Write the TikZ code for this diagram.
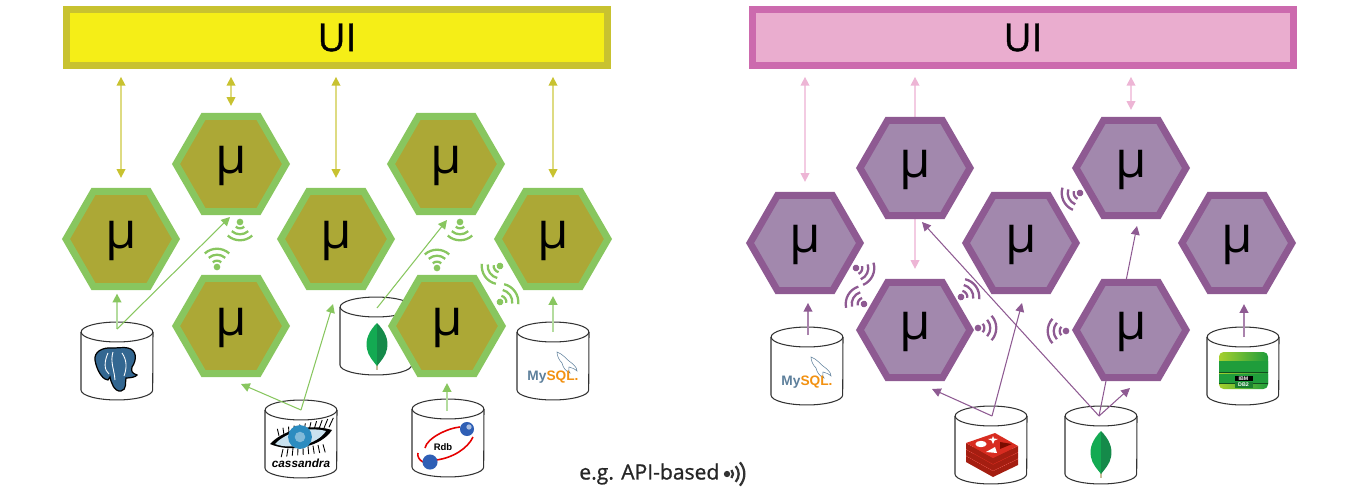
\documentclass[tikz,border=0pt]{standalone}
\usepackage{fontspec}
\setmainfont{Open Sans}
\newfontfamily\logofont{Liberation Sans}
\newfontfamily\semifont[FakeBold=1]{Open Sans}
\usetikzlibrary{
    arrows.meta,
    shapes.geometric,
    backgrounds
}
\definecolor{uiyellow}{HTML}{F5EE17}
\definecolor{uiolive}{HTML}{C8C230}
\definecolor{hexolive}{HTML}{ACA836}
\definecolor{hexgreen}{HTML}{88C65F}
\definecolor{uipink}{HTML}{EAADCF}
\definecolor{uirose}{HTML}{CC6AAE}
\definecolor{hexmauve}{HTML}{A288AD}
\definecolor{hexplum}{HTML}{8E5A92}
\definecolor{linepale}{HTML}{DEDB82}
\definecolor{linepink}{HTML}{F3CBE2}
\definecolor{tippink}{HTML}{EDB5D5}
\definecolor{linegreen}{HTML}{B4DC9E}
\definecolor{pgblue}{HTML}{336791}
\definecolor{eyeblue}{HTML}{2C8CC0}
\definecolor{leaflight}{HTML}{13AA52}
\definecolor{leafdark}{HTML}{158A4A}
\definecolor{leafstem}{HTML}{C9BC9A}
\definecolor{globeblue}{HTML}{2F5FB5}
\definecolor{mysqlblue}{HTML}{5D7F9B}
\definecolor{mysqlorange}{HTML}{F29111}
\definecolor{redisdark}{HTML}{A41E11}
\definecolor{redistop}{HTML}{D82C20}
\definecolor{redisdeep}{HTML}{7A0C00}
\definecolor{stacklime}{HTML}{A5CF2E}
\definecolor{stackgreen}{HTML}{1F9D3B}
\tikzset{
    uibar/.style={rectangle, draw, line width=3.97pt, minimum width=10.82cm, minimum height=1.12cm, font=\semifont\fontsize{22}{22}\selectfont},
    hexbox/.style={regular polygon, regular polygon sides=6, inner sep=0pt, minimum size=2.2cm, line width=3.97pt, text height=17pt, text depth=6pt, font=\fontsize{29}{29}\selectfont},
    hexa/.style={hexbox, draw=hexgreen, fill=hexolive},
    hexb/.style={hexbox, draw=hexplum, fill=hexmauve},
    yarrow/.style={draw=linepale, line width=.8pt, arrows={Triangle[width=5pt,length=5pt,color=uiolive]-Triangle[width=5pt,length=5pt,color=uiolive]}},
    parrow/.style={draw=linepink, line width=.8pt, arrows={Triangle[width=5pt,length=5pt,color=tippink]-Triangle[width=5pt,length=5pt,color=tippink]}},
    parrowone/.style={draw=linepink, line width=.8pt, arrows={-Triangle[width=5pt,length=5pt,color=tippink]}},
    garrow/.style={draw=hexgreen, line width=.6pt, arrows={-Triangle[width=5pt,length=5pt]}},
    garrowpale/.style={draw=linegreen, line width=.9pt, arrows={-Triangle[width=5pt,length=5pt,color=hexgreen]}},
    marrow/.style={draw=hexplum, line width=.6pt, arrows={-Triangle[width=5pt,length=5pt]}},
    marrowpale/.style={draw=hexplum!75, line width=.9pt, arrows={-Triangle[width=5pt,length=5pt,color=hexplum]}},
    dbcan/.pic={
        \draw[black!80, line width=.6pt] (0,-29) ellipse (20.4pt and 5.67pt);
        \draw[black!80, line width=.6pt] (-36,-29) -- (-36,29) arc[start angle=180, end angle=360, x radius=20.4pt, y radius=5.67pt] -- (36,-29);
    },
    % radio sign, opening along +x
    wifi/.pic={
        \fill (0,0) circle (1.9pt);
        \foreach \r in {3.6pt, 7pt, 10.4pt}
            \draw[line width=1.3pt] (-42:\r) arc[start angle=-42, end angle=42, radius=\r];
    },
    pgelephant/.pic={
        \draw[fill=pgblue, draw=black, line width=.7pt] (-3,-22)
            .. controls (-14,-23) and (-22,-18) .. (-21,-10)
            .. controls (-20,-3) and (-16,6) .. (-11,9) -- (-8,10) -- (-6,7)
            .. controls (-5,12) and (-2,22) .. (5,21)
            .. controls (11,20) and (9,12) .. (10,8)
            .. controls (14,8) and (20,7) .. (21,5)
            .. controls (16,3) and (15,2) .. (16,-3)
            .. controls (21,-10) and (21,-20) .. (12,-22)
            .. controls (8,-23) and (2,-22) .. (-3,-22) -- cycle;
        \draw[white, line width=.5pt] (-8,-17) .. controls (-12,-8) and (-12,0) .. (-7,4);
        \draw[white, line width=.5pt] (-3,-18) .. controls (-6,-8) and (-2,-2) .. (-1,10);
        \draw[white, line width=.5pt] (6,-17) .. controls (11,-10) and (11,-2) .. (8,6);
    },
    eyelogo/.pic={
        \foreach \a in {-22,-17,...,32}
            \draw[line width=.5pt] (\a,{-7-\a*.17}) -- ({\a+\a*.12+1},{-15-\a*.22});
        \foreach \a in {-18,-13,...,24}
            \draw[line width=.5pt] (\a,{8-\a*.12}) -- ({\a*1.1},{16-\a*.12});
        \fill (-31,5) .. controls (-18,-9) and (8,-16) .. (31,-9) .. controls (20,8) and (-10,14) .. (-31,5) -- cycle;
        \fill[eyeblue!25!white] (-26,5) .. controls (-16,-6) and (6,-13) .. (25,-8) .. controls (16,6) and (-10,11) .. (-26,5) -- cycle;
        \fill[eyeblue] (-1,-2) circle (6.8pt);
        \fill[eyeblue!60!white] (-1,-2) circle (3pt);
        \node (-name) at (0,24) {\logofont\fontsize{6.7}{6.7}\selectfont\bfseries\itshape cassandra};
    },
    leaf/.pic={
        \draw[leafstem, line width=.8pt] (0,15) -- (0,24);
        \fill[leaflight] (0,-23) .. controls (-8,-15) and (-12,-6) .. (-10,3) .. controls (-9,10) and (-3,16) .. (0,20) -- cycle;
        \fill[leafdark] (0,-23) .. controls (8,-15) and (12,-6) .. (10,3) .. controls (9,10) and (3,16) .. (0,20) -- cycle;
    },
    rdblogo/.pic={
        \draw[red!90!black, line width=.9pt] (-23,10) .. controls (-21,0) and (0,-10) .. (12,-11);
        \draw[red!90!black, line width=.9pt] (-30,15) .. controls (-31,18) and (-29,22) .. (-25,24);
        \draw[red!90!black, line width=.9pt] (-12,22) .. controls (5,20) and (20,10) .. (25,-1);
        \fill[globeblue] (19,-9) circle (4pt);
        \fill[white, opacity=.6] (21,-11) circle (1.5pt);
        \fill[globeblue] (-18,24) circle (4.3pt);
        \node (-name) at (-5,9) {\logofont\fontsize{5.4}{5.4}\selectfont\bfseries Rdb};
    },
    mysqllogo/.pic={
        \draw[mysqlblue, line width=.3pt] (4,-9) .. controls (10,-7) and (13,-2) .. (16,0)
            .. controls (20,3) and (24,6) .. (24,10) .. controls (21,7) and (18,7) .. (16,6)
            .. controls (15,9) and (16,11) .. (17,12) .. controls (12,10) and (10,6) .. (9,2)
            .. controls (6,-1) and (4,-5) .. (4,-9) -- cycle;
        \node (-name) at (0,16) {\logofont\fontsize{7.8}{7.8}\selectfont\bfseries\textcolor{mysqlblue}{My}\textcolor{mysqlorange}{SQL.}};
    },
    redislogo/.pic={
        \foreach \d in {13,6.5,0} {
            \fill[redisdark] (-26,{-12+\d}) -- (1,{3+\d}) -- (26,{-9+\d}) -- (26,{-3+\d}) -- (1,{9+\d}) -- (-26,{-6+\d}) -- cycle;
            \fill[redistop] (-26,{-12+\d}) -- (3,-22+\d) -- (26,{-9+\d}) -- (1,{3+\d}) -- cycle;
        }
        \fill[white] (-11,-11) ellipse (3.2pt and 1.8pt);
        \fill[white] (1,-19) -- (2,-16.5) -- (6,-16) -- (2.5,-14.5) -- (1,-11) -- (-.5,-14.5) -- (-4,-16) -- (0,-16.5) -- cycle;
        \fill[white] (3,-8) -- (-6,-3) -- (5,-2) -- cycle;
        \fill[redisdeep] (8,-13) -- (20,-11) -- (8,-6) -- cycle;
    },
    stacklogo/.pic={
        \shade[left color=stacklime, right color=stackgreen, rounded corners=2.6pt] (-24.5,-18.5) rectangle (24.5,18.5);
        \shade[left color=stackgreen, middle color=stacklime!60!white, right color=stackgreen] (-24.5,-9) rectangle (24.5,2);
        \shade[left color=stackgreen, middle color=stacklime!60!white, right color=stackgreen] (-24.5,4) rectangle (24.5,13);
        \draw[stackgreen!50!black, line width=.7pt] (-24.5,2) -- (24.5,2);
        \draw[stackgreen!50!black, line width=.7pt] (-24.5,13) -- (24.5,13);
        \node[fill=black, text=white, inner sep=0pt, minimum width=.36cm, minimum height=.11cm, font=\logofont\fontsize{3}{3}\selectfont\bfseries] (-ibm) at (0,8) {IBM};
        \node[fill=stackgreen!80!black, text=white, inner sep=0pt, minimum width=.36cm, minimum height=.13cm, font=\logofont\fontsize{3}{3}\selectfont\bfseries] (-dbtwo) at (0,14.5) {DB2};
    },
    wifig/.style={color=hexgreen},
    wifim/.style={color=hexplum}
}
\begin{document}
\begin{tikzpicture}[x=0.02cm, y=-0.02cm]
    \useasboundingbox (0, 0) rectangle (1370, 487);

    % left side
    \node[uibar, draw=uiolive, fill=uiyellow] (uia) at (337, 37.5) {UI\hspace{3.4pt}};
    \node[hexa] (ha1) at (121, 239) {μ};
    \node[hexa] (ha2) at (231, 164) {μ};
    \node[hexa] (ha3) at (231, 326) {μ};
    \node[hexa] (ha4) at (336, 239) {μ};
    \node[hexa] (ha5) at (446, 164) {μ};
    \node[hexa] (ha6) at (447, 326) {μ};
    \node[hexa] (ha7) at (553, 239) {μ};

    % right side
    \node[uibar, draw=uirose, fill=uipink] (uib) at (1023, 37.5) {UI\hspace{3.4pt}};
    \node[hexb] (hb1) at (805, 243) {μ};
    \node[hexb] (hb2) at (915, 168) {μ};
    \node[hexb] (hb3) at (915, 330) {μ};
    \node[hexb] (hb4) at (1021, 243) {μ};
    \node[hexb] (hb5) at (1131, 168) {μ};
    \node[hexb] (hb6) at (1131, 330) {μ};
    \node[hexb] (hb7) at (1237, 243) {μ};

    \begin{scope}[on background layer]
        \pic at (117, 361) {dbcan};
        \pic at (301, 439) {dbcan};
        \pic at (376, 336) {dbcan};
        \pic at (448, 438) {dbcan};
        \pic at (553, 361) {dbcan};
        \pic at (807, 366) {dbcan};
        \pic at (991, 445) {dbcan};
        \pic at (1101, 445) {dbcan};
        \pic at (1243, 366) {dbcan};

        \coordinate (pgtop) at (117, 329);
        \coordinate (casstop) at (301, 410);
        \coordinate (mongoatop) at (377, 308);
        \coordinate (rdbtop) at (447, 411);
        \coordinate (mysqlatop) at (553, 332);
        \coordinate (mysqlbtop) at (808, 335);
        \coordinate (redistop) at (992, 416);
        \coordinate (mongobtop) at (1099, 416);
        \coordinate (stacktop) at (1244, 337);
        \coordinate (tipa2) at (230, 217);
        \coordinate (tipa3) at (241, 384);
        \coordinate (tipa4) at (333, 304);
        \coordinate (tipa5) at (447, 220);
        \coordinate (tipb2) at (922, 222);
        \coordinate (tipb3) at (932, 389);
        \coordinate (tipb4) at (1022, 303);
        \coordinate (tipb5) at (1137, 226);
        \coordinate (tipb6) at (1130, 388);

        \draw[yarrow, shorten <=4.5pt, shorten >=5.7pt] (uia.south -| ha1.north) -- (ha1.north);
        \draw[yarrow, shorten <=4.5pt, shorten >=4pt] (uia.south -| ha2.north) -- (ha2.north);
        \draw[yarrow, shorten <=4.5pt, shorten >=5.7pt] (uia.south -| ha4.north) -- (ha4.north);
        \draw[yarrow, shorten <=4.5pt, shorten >=5.7pt] (uia.south -| ha7.north) -- (ha7.north);
        \draw[parrow, shorten <=4.5pt, shorten >=5.7pt] (uib.south -| hb1.north) -- (hb1.north);
        \draw[parrowone, shorten >=4.5pt] (hb2.north) -- (uib.south -| hb2.north);
        \draw[parrow, shorten <=4.5pt, shorten >=4pt] (uib.south -| hb5.north) -- (hb5.north);
        \draw[parrowone, shorten >=5.7pt] (hb2.south) -- (hb3.north);

        \draw[garrowpale, shorten >=2pt] (pgtop) -- (ha1.south -| pgtop);
        \draw[garrow] (pgtop) -- (tipa2);
        \draw[garrow] (casstop) -- (tipa3);
        \draw[garrow] (casstop) -- (tipa4);
        \draw[garrow] (mongoatop) -- (tipa5);
        \draw[garrowpale, shorten >=3.4pt] (rdbtop) -- (ha6.south -| rdbtop);
        \draw[garrowpale, shorten >=3.4pt] (mysqlatop) -- (ha7.south -| mysqlatop);
        \draw[marrowpale, shorten >=5pt] (mysqlbtop) -- (hb1.south -| mysqlbtop);
        \draw[marrow] (redistop) -- (tipb3);
        \draw[marrow] (redistop) -- (tipb4);
        \draw[marrow] (mongobtop) -- (tipb2);
        \draw[marrow] (mongobtop) -- (tipb5);
        \draw[marrow] (mongobtop) -- (tipb6);
        \draw[marrowpale, shorten >=5.7pt] (stacktop) -- (hb7.south -| stacktop);
    \end{scope}

    % radio signs
    \pic[wifig, rotate=270] at (240, 222) {wifi};
    \pic[wifig, rotate=90] at (217, 267) {wifi};
    \pic[wifig, rotate=270] at (460, 222) {wifi};
    \pic[wifig, rotate=90] at (437, 268) {wifi};
    \pic[wifig, rotate=215] at (500, 266) {wifi};
    \pic[wifig, rotate=35] at (500, 302) {wifi};
    \pic[wifim, rotate=-25] at (856, 268) {wifi};
    \pic[wifim, rotate=150] at (864, 304) {wifi};
    \pic[wifim, rotate=35] at (961, 297) {wifi};
    \pic[wifim] at (978, 328) {wifi};
    \pic[wifim, rotate=180] at (1066, 331) {wifi};
    \pic[wifim, rotate=205] at (1080, 193) {wifi};

    % logos
    \pic at (116, 370) {pgelephant};
    \pic (casslogo) at (301, 439) {eyelogo};
    \pic at (377, 346) {leaf};
    \pic (rdblogo) at (448, 438) {rdblogo};
    \pic (mya) at (553, 361) {mysqllogo};
    \pic (myb) at (807, 366) {mysqllogo};
    \pic at (992, 455) {redislogo};
    \pic at (1101, 454) {leaf};
    \pic (stack) at (1243.5, 370.5) {stacklogo};

    \node[anchor=west, inner sep=0pt, text=black!85, font=\semifont\fontsize{12}{12}\selectfont] (apinote) at (579, 474) {e.g. API-based};
    \pic[color=black!80, scale=.95] at (727, 474) {wifi};
\end{tikzpicture}
\end{document}
